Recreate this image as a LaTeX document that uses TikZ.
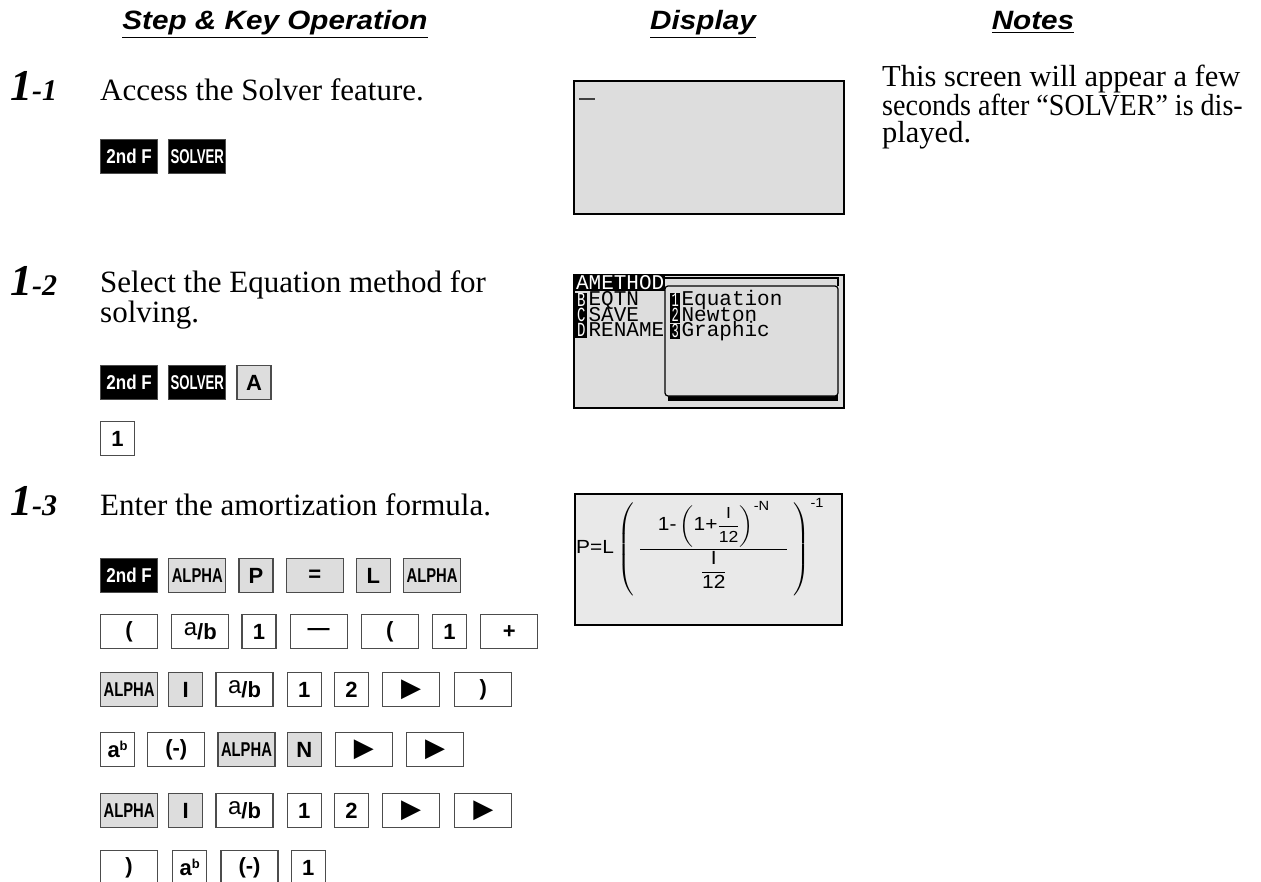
\documentclass[tikz,border=0pt]{standalone}
\usepackage{amsmath}
\usepackage{fontspec}
\usepackage{graphicx}
\setmainfont{Liberation Serif}
\setsansfont{Liberation Sans}
\newfontfamily\keyfont{Liberation Sans}
\newfontfamily\lcdfont{Liberation Mono}
\newfontfamily\symfont{DejaVu Sans}
\usetikzlibrary{positioning}

\definecolor{lcd}{RGB}{221,221,221}
\definecolor{lcdlight}{RGB}{233,233,233}
\definecolor{keygrey}{RGB}{221,221,221}

\newcommand{\narrowkey}[2]{\scalebox{#1}[1]{#2}}
\newcommand{\playkey}{{\symfont\fontsize{26}{26}\selectfont ▶}}
\newcommand{\fracab}{\raisebox{4pt}{\mdseries\fontsize{24}{24}\selectfont a}/b}
\newcommand{\powab}{a\raisebox{7pt}{\fontsize{13}{13}\selectfont b}}
\newcommand{\steptag}[1]{{\fontsize{44}{44}\selectfont 1}{\fontsize{30}{30}\selectfont -#1}}
\newcommand{\lcdsmall}[1]{\mbox{\keyfont\fontsize{16}{16}\selectfont #1}}

\begin{document}
\begin{tikzpicture}[x=1pt, y=-1pt, node distance=12pt,
    head/.style={anchor=base, inner sep=0pt, font=\keyfont\bfseries\itshape\fontsize{26.5}{26.5}\selectfont},
    steplbl/.style={anchor=base west, inner sep=0pt, font=\bfseries\itshape},
    bodytxt/.style={anchor=base west, inner sep=0pt, align=left, font=\fontsize{31}{27}\selectfont},
    key/.style={draw=black!70, line width=1.2pt, fill=white, minimum width=34pt, minimum height=34pt, inner sep=0pt, font=\keyfont\bfseries\fontsize{22}{22}\selectfont},
    keywide/.style={key, minimum width=57pt},
    keygray/.style={key, fill=keygrey},
    alphakey/.style={keywide, fill=keygrey, font=\keyfont\bfseries\fontsize{20}{20}\selectfont},
    fnkey/.style={keywide, fill=black, draw=black!70, text=white, font=\keyfont\bfseries\fontsize{20}{20}\selectfont},
    screen/.style={draw=black, line width=2pt, fill=lcd, minimum width=270pt, minimum height=133pt, inner sep=0pt, anchor=north west},
    lcdtxt/.style={anchor=west, inner sep=0pt, font=\lcdfont\fontsize{21}{21}\selectfont},
    invl/.style={anchor=west, fill=black, text=white, inner sep=0pt, minimum width=12pt, minimum height=15pt, font=\lcdfont\fontsize{20}{20}\selectfont}
]
    \useasboundingbox (0,0) rectangle (1261,881);

    % Column heads
    \node[head] (hstep) at (275,29) {\underline{\narrowkey{1.12}{Step \& Key Operation}}};
    \node[head] (hdisp) at (703,29) {\underline{\narrowkey{1.12}{Display}}};
    \node[head] (hnote) at (1033,29) {\underline{\narrowkey{1.12}{Notes}}};

    % Step 1-1
    \node[steplbl] (s1) at (10,100) {\steptag{1}};
    \node[bodytxt] (t1) at (100,100) {Access the Solver feature.};
    \node[fnkey, anchor=north west] (k11) at (100,139) {\narrowkey{0.85}{2nd F}};
    \node[fnkey, right=10pt of k11] (k12) {\narrowkey{0.66}{SOLVER}};
    \node[screen] (d1) at (573,80) {};
    \draw[line width=2.5pt, black!75] ([shift={(6,19)}]d1.north west) -- ++(16,0);
    \node[bodytxt, font=\fontsize{30.5}{27}\selectfont] (n1) at (882,142) {This screen will appear a few\\\narrowkey{0.92}{seconds after “SOLVER” is dis-}\\played.};

    % Step 1-2
    \node[steplbl] (s2) at (10,295) {\steptag{2}};
    \node[bodytxt] (t2) at (100,322) {Select the Equation method for\\solving.};
    \node[fnkey, anchor=north west] (k21) at (100,365) {\narrowkey{0.85}{2nd F}};
    \node[fnkey, right=10pt of k21] (k22) {\narrowkey{0.66}{SOLVER}};
    \node[keygray, right=10pt of k22] (k23) {A};
    \node[key, anchor=north west] (k24) at (100,421) {1};

    % Method menu screen
    \node[screen] (d2) at (573,274) {};
    \draw[line width=1.2pt] (663,278) -- (838,278) -- (838,286);
    \fill[black] (668,300) rectangle (838,401);
    \draw[line width=1.2pt, fill=lcd, rounded corners=3pt] (665,286) rectangle (838,396);
    \node[invl, minimum width=90pt, font=\lcdfont\fontsize{21}{21}\selectfont] (mhd) at (575,283) {AMETHOD};
    \node[invl] (mb) at (575,300) {\narrowkey{0.7}{B}};
    \node[lcdtxt, right=1pt of mb] (mbt) {EQTN};
    \node[invl] (mc) at (575,315) {\narrowkey{0.7}{C}};
    \node[lcdtxt, right=1pt of mc] (mct) {SAVE};
    \node[invl] (md) at (575,330) {\narrowkey{0.7}{D}};
    \node[lcdtxt, right=1pt of md] (mdt) {RENAME};
    \node[invl, minimum width=10pt] (m1) at (670,300) {\narrowkey{0.6}{1}};
    \node[lcdtxt, right=1pt of m1] (m1t) {Equation};
    \node[invl, minimum width=10pt] (m2) at (670,315) {\narrowkey{0.6}{2}};
    \node[lcdtxt, right=1pt of m2] (m2t) {Newton};
    \node[invl, minimum width=10pt] (m3) at (670,331) {\narrowkey{0.6}{3}};
    \node[lcdtxt, right=1pt of m3] (m3t) {Graphic};

    % Step 1-3
    \node[steplbl] (s3) at (10,515) {\steptag{3}};
    \node[bodytxt] (t3) at (100,515) {Enter the amortization formula.};

    \node[fnkey, anchor=north west] (ka1) at (100,558) {\narrowkey{0.85}{2nd F}};
    \node[alphakey, right=10pt of ka1] (ka2) {\narrowkey{0.74}{ALPHA}};
    \node[keygray, right=of ka2] (ka3) {P};
    \node[keygray, keywide, fill=keygrey, right=of ka3] (ka4) {=};
    \node[keygray, right=of ka4] (ka5) {L};
    \node[alphakey, right=of ka5] (ka6) {\narrowkey{0.74}{ALPHA}};

    \node[keywide, anchor=north west] (kb1) at (100,614) {(};
    \node[keywide, right=13pt of kb1] (kb2) {\fracab};
    \node[key, right=of kb2] (kb3) {1};
    \node[keywide, right=13pt of kb3] (kb4) {—};
    \node[keywide, right=13pt of kb4] (kb5) {(};
    \node[key, right=13pt of kb5] (kb6) {1};
    \node[keywide, right=13pt of kb6] (kb7) {+};

    \node[alphakey, anchor=north west] (kc1) at (100,672) {\narrowkey{0.74}{ALPHA}};
    \node[keygray, right=10pt of kc1] (kc2) {I};
    \node[keywide, right=of kc2] (kc3) {\fracab};
    \node[key, right=13pt of kc3] (kc4) {1};
    \node[key, right=of kc4] (kc5) {2};
    \node[keywide, right=13pt of kc5] (kc6) {\playkey};
    \node[keywide, right=14pt of kc6] (kc7) {)};

    \node[key, anchor=north west] (kd1) at (100,732) {\powab};
    \node[keywide, right=of kd1] (kd2) {(-)};
    \node[alphakey, right=of kd2] (kd3) {\narrowkey{0.74}{ALPHA}};
    \node[keygray, right=11pt of kd3] (kd4) {N};
    \node[keywide, right=13pt of kd4] (kd5) {\playkey};
    \node[keywide, right=13pt of kd5] (kd6) {\playkey};

    \node[alphakey, anchor=north west] (ke1) at (100,793) {\narrowkey{0.74}{ALPHA}};
    \node[keygray, right=10pt of ke1] (ke2) {I};
    \node[keywide, right=of ke2] (ke3) {\fracab};
    \node[key, right=13pt of ke3] (ke4) {1};
    \node[key, right=of ke4] (ke5) {2};
    \node[keywide, right=13pt of ke5] (ke6) {\playkey};
    \node[keywide, right=14pt of ke6] (ke7) {\playkey};

    \node[keywide, anchor=north west] (kf1) at (100,850) {)};
    \node[key, right=14pt of kf1] (kf2) {\powab};
    \node[keywide, right=13pt of kf2] (kf3) {(-)};
    \node[key, right=of kf3] (kf4) {1};

    % Formula screen
    \node[screen, fill=lcdlight, minimum width=267pt, minimum height=131pt] (d3) at (574,493) {};
    \node[anchor=west, inner sep=0pt, font=\keyfont\fontsize{19}{19}\selectfont] (frm) at (576,547)
        {\narrowkey{1.1}{$\textsf{P=L}\left(\;\dfrac{\hspace{16pt}\textsf{1-}\left(\textsf{1+}\dfrac{\lcdsmall{I}}{\lcdsmall{12}}\right)^{\textsf{-N}}\hspace{16pt}}{\dfrac{\textsf{I}}{\textsf{12}}}\;\right)^{\textsf{-1}}$}};
\end{tikzpicture}
\end{document}
